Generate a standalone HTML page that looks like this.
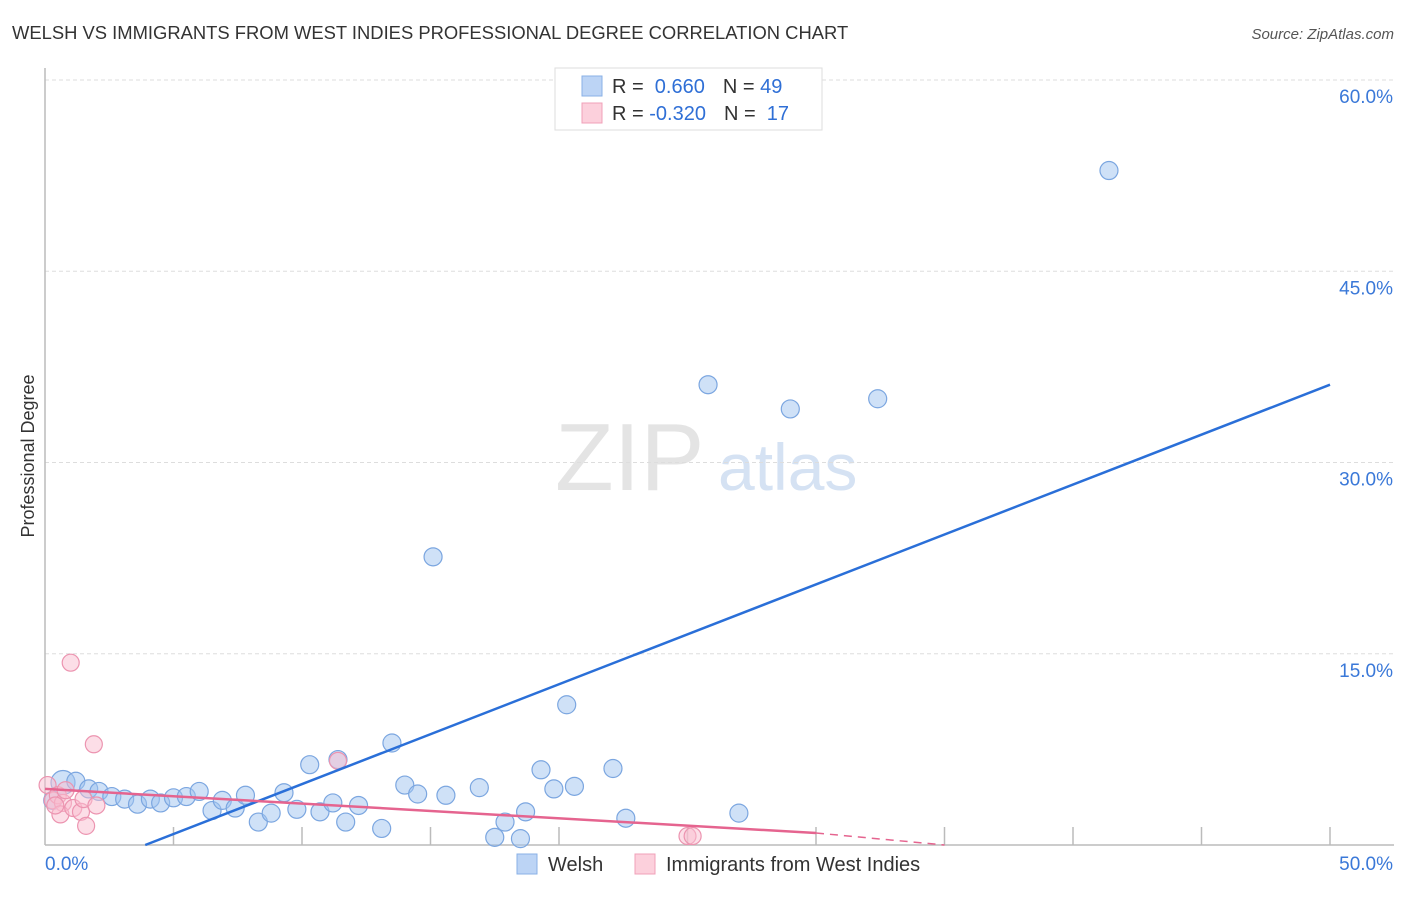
<!DOCTYPE html>
<html><head><meta charset="utf-8"><style>
body{margin:0;background:#fff;font-family:"Liberation Sans",sans-serif;}
svg text{font-family:"Liberation Sans",sans-serif;}
</style></head><body>
<svg id="c" width="1406" height="892" xmlns="http://www.w3.org/2000/svg">
<text x="12" y="39" font-size="18.4" fill="#333">WELSH VS IMMIGRANTS FROM WEST INDIES PROFESSIONAL DEGREE CORRELATION CHART</text>
<text x="1394" y="39" font-size="15" fill="#555" text-anchor="end" font-style="italic">Source: ZipAtlas.com</text>
<text x="34" y="456" font-size="18" fill="#333" text-anchor="middle" transform="rotate(-90 34 456)">Professional Degree</text>
<text x="555" y="490" font-size="96" fill="#e4e4e4" font-family="Liberation Serif">ZIP</text>
<text x="718" y="490" font-size="66" fill="#d5e2f3">atlas</text>
<g id="grid"></g><g id="pts"></g><g id="lines"></g>
<g>
<rect x="555" y="68" width="267" height="62" fill="#fff" stroke="#ddd"/>
<rect x="582" y="76" width="20" height="20" fill="#bcd4f5" stroke="#8ab0e6"/>
<rect x="582" y="103" width="20" height="20" fill="#fcd0dc" stroke="#f0a0b8"/>
<text x="612" y="93" font-size="20" fill="#333">R = <tspan fill="#2f6fd6">&#160;0.660</tspan><tspan dx="18">N = </tspan><tspan fill="#2f6fd6">49</tspan></text>
<text x="612" y="120" font-size="20" fill="#333">R = <tspan fill="#2f6fd6">-0.320</tspan><tspan dx="18">N = </tspan><tspan fill="#2f6fd6">&#160;17</tspan></text>
</g>
<g>
<rect x="517" y="854" width="20" height="20" fill="#bcd4f5" stroke="#8ab0e6"/>
<text x="548" y="871" font-size="20" fill="#333">Welsh</text>
<rect x="635" y="854" width="20" height="20" fill="#fcd0dc" stroke="#f0a0b8"/>
<text x="666" y="871" font-size="20" fill="#333">Immigrants from West Indies</text>
</g>
</svg>
<script>
const yTicks=[15,30,45,60];
const xTickLabels=["0.0%","50.0%"];
const welshX=[41.4,25.8,29,32.4,15.1,20.3,13.5,10.3,11.4,19.3,22.1,14,14.5,15.6,16.9,19.8,20.6,0.7,1.2,1.7,2.1,2.6,3.1,3.6,4.1,4.5,5,5.5,6,6.5,6.9,7.4,7.8,8.3,8.8,9.3,9.8,10.7,11.2,11.7,12.2,13.1,17.5,17.9,18.5,18.7,22.6,27,0.3];
const welshY=[52.9,36.1,34.2,35,22.6,11.0,8.0,6.3,6.7,5.9,6.0,4.7,4.0,3.9,4.5,4.4,4.6,4.9,5.0,4.4,4.2,3.8,3.6,3.2,3.6,3.3,3.7,3.8,4.2,2.7,3.5,2.9,3.9,1.8,2.5,4.1,2.8,2.6,3.3,1.8,3.1,1.3,0.6,1.8,0.5,2.6,2.1,2.5,3.5];
const wiX=[1,1.9,11.4,0.1,0.3,0.5,0.7,0.8,0.6,1.1,1.4,1.5,2,1.6,25.0,25.2,0.4];
const wiY=[14.3,7.9,6.6,4.7,3.5,3.9,3.3,4.3,2.4,2.9,2.6,3.6,3.1,1.5,0.7,0.7,3.1];
const welshFit=[3.9,0,50,36.1];
const wiFit=[0,4.4,30,0.94,35,0.0];
const ns="http://www.w3.org/2000/svg";
const X=v=>45+v*25.7, Y=v=>845-v*12.75;
function mk(t,a,p){const e=document.createElementNS(ns,t);for(const k in a)e.setAttribute(k,a[k]);document.getElementById(p).appendChild(e);return e;}
yTicks.forEach(t=>{
 const l=mk('line',{x1:45,x2:1394,y1:Y(t),y2:Y(t),stroke:'#ddd','stroke-dasharray':'4 3'},'grid');
 
 
 const tx=mk('text',{x:1393,y:Y(t)+23,'font-size':19,fill:'#3a78d8','text-anchor':'end'},'grid');tx.textContent=t.toFixed(1)+'%';
 
 
});
let a=mk('line',{x1:45,x2:45,y1:68,y2:845,stroke:'#bbb','stroke-width':1.5},'grid');


a=mk('line',{x1:45,x2:1394,y1:845,y2:845,stroke:'#bbb','stroke-width':1.5},'grid');


for(let i=1;i<=10;i++){const t=mk('line',{x1:X(i*5),x2:X(i*5),y1:827,y2:845,stroke:'#bbb','stroke-width':1.5},'grid');
 
 }
xTickLabels.forEach((s,i)=>{const t=mk('text',{x:i?1393:45,y:870,'font-size':19,fill:'#3a78d8','text-anchor':i?'end':'start'},'grid');t.textContent=s;
 
 });
welshX.forEach((v,i)=>{const c=mk('circle',{cx:X(v),cy:Y(welshY[i]),r:(i==17?12:9),fill:'rgba(160,196,240,0.5)',stroke:'#7ba6e0','stroke-width':1.2},'pts');
 
 });
wiX.forEach((v,i)=>{const c=mk('circle',{cx:X(v),cy:Y(wiY[i]),r:8.5,fill:'rgba(250,190,208,0.5)',stroke:'#ec94b0','stroke-width':1.2},'pts');
 
 });
let l=mk('line',{x1:X(welshFit[0]),y1:Y(welshFit[1]),x2:X(welshFit[2]),y2:Y(welshFit[3]),stroke:'#2a6fd8','stroke-width':2.5},'lines');


l=mk('line',{x1:X(wiFit[0]),y1:Y(wiFit[1]),x2:X(wiFit[2]),y2:Y(wiFit[3]),stroke:'#e5648f','stroke-width':2.5},'lines');


l=mk('line',{x1:X(wiFit[2]),y1:Y(wiFit[3]),x2:X(wiFit[4]),y2:Y(wiFit[5]),stroke:'#e5648f','stroke-width':1.5,'stroke-dasharray':'8 6'},'lines');


</script>
</body></html>
